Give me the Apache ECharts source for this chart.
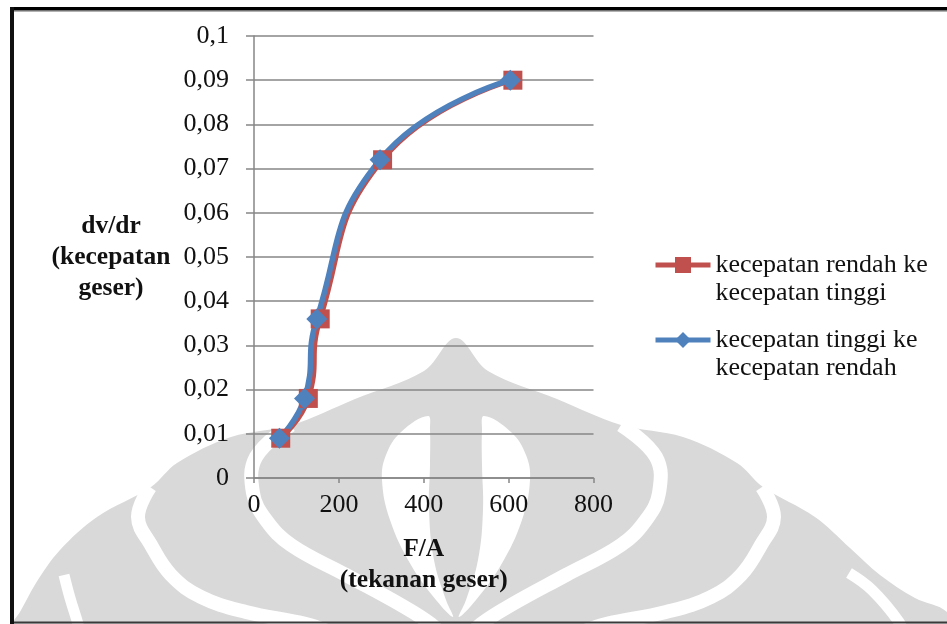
<!DOCTYPE html>
<html>
<head>
<meta charset="utf-8">
<script src="https://cdn.jsdelivr.net/npm/echarts@6/dist/echarts.min.js"></script>
<style>
html,body{margin:0;padding:0;background:#fff;}
#chart{width:947px;height:624px;}
</style>
</head>
<body>
<div id="chart"></div>
<script>
// ---- data ----
const seriesNames = ['kecepatan rendah ke kecepatan tinggi', 'kecepatan tinggi ke kecepatan rendah'];
const redX  = [63, 128, 156, 303, 610];
const redY  = [0.009, 0.018, 0.036, 0.072, 0.09];
const blueX = [60, 119, 148, 297, 604];
const blueY = [0.009, 0.018, 0.036, 0.072, 0.09];
const yAxisTitle = 'dv/dr\n(kecepatan\ngeser)';
const xAxisTitle = 'F/A\n(tekanan geser)';

const FONT = 'Liberation Serif';
const GRAY = '#d9d9d9';

function pairs(xs, ys){ return xs.map((x,i)=>[x, ys[i]]); }
function mirror(pts, cx){ return pts.map(p=>[2*cx - p[0], p[1]]); }

// ---- background watermark (decorative) ----
const CX = 456;
const envelope = [[10,640],[12,624],[20,612],[36,583],[60,550],[97,517],[151,487],[177,463],[231,437],[292,425],[355,399],[424,371],[456,338],[488,371],[557,399],[621,425],[683,437],[737,463],[763,487],[815,517],[850,548],[880,575],[915,598],[947,612],[960,640]];
const bandBLeft = [[291,425],[256,457],[253,493],[266,520],[291,545],[346,575],[401,605],[431,624],[440,634]];
const bandCLeft = [[150,487],[138,517],[151,545],[171,575],[201,597],[246,612],[306,624],[330,632]];
const bandDLeft = [[64,575],[70,598],[78,624],[80,634]];
const bandDRight = [[849,573],[872,590],[899,622],[903,634]];
const leafRight = [[484,416],[511,432],[526,455],[530,480],[522,520],[501,565],[476,600],[459,617],[466,600],[478,560],[483,510],[482,465],[482,430]];

const wm = [];
wm.push({type:'polygon', z:-10, silent:true, shape:{points:envelope, smooth:0.35}, style:{fill:GRAY}});
[bandBLeft, mirror(bandBLeft, CX), bandCLeft, mirror(bandCLeft, CX)].forEach(b=>{
  wm.push({type:'polyline', z:-9, silent:true, shape:{points:b, smooth:0.4}, style:{stroke:'#fff', lineWidth:14, fill:null}});
});
[bandDLeft, bandDRight].forEach(b=>{
  wm.push({type:'polyline', z:-9, silent:true, shape:{points:b, smooth:0.4}, style:{stroke:'#fff', lineWidth:11, fill:null}});
});
[leafRight, mirror(leafRight, CX)].forEach(l=>{
  wm.push({type:'polygon', z:-9, silent:true, shape:{points:l, smooth:0.4}, style:{fill:'#fff'}});
});
// frame
const frame = [
  {type:'rect', z:100, silent:true, shape:{x:10, y:7, width:937, height:3.5}, style:{fill:'#000'}},
  {type:'rect', z:100, silent:true, shape:{x:10, y:10.5, width:937, height:1}, style:{fill:'#666'}},
  {type:'rect', z:100, silent:true, shape:{x:10, y:7, width:4, height:617}, style:{fill:'#111'}},
  {type:'rect', z:100, silent:true, shape:{x:14, y:621.5, width:933, height:2}, style:{fill:'#3a3a3a'}}
];

const chart = echarts.init(document.getElementById('chart'));
const legendBase = {
  orient:'vertical', left:648, itemWidth:55, itemHeight:20, selectedMode:false,
  lineStyle:{width:5},
  textStyle:{fontFamily:FONT, fontSize:26, lineHeight:28, color:'#111'},
  // blank first line so the icon sits beside the first line of text
  formatter: n => ' \n' + n.replace(' ke ', ' ke\n')
};
chart.setOption({
  animation:false,
  backgroundColor:'#fff',
  grid:{left:254, right:353.5, top:36, bottom:146, containLabel:false},
  legend:[
    Object.assign({}, legendBase, {data:[seriesNames[0]], top:218}),
    Object.assign({}, legendBase, {data:[seriesNames[1]], top:293})
  ],
  xAxis:{
    type:'value', min:0, max:800, interval:200,
    name:xAxisTitle, nameLocation:'middle', nameGap:56,
    nameTextStyle:{fontFamily:FONT, fontSize:25.5, fontWeight:'bold', lineHeight:31, color:'#111'},
    axisLine:{show:true, lineStyle:{color:'#868686', width:1.5}},
    axisTick:{show:true, length:5, lineStyle:{color:'#868686', width:1.5}},
    axisLabel:{fontFamily:FONT, fontSize:26, color:'#111', margin:14},
    splitLine:{show:false}
  },
  yAxis:{
    type:'value', min:0, max:0.1, interval:0.01,
    name:yAxisTitle, nameLocation:'middle', nameGap:143, nameRotate:0,
    nameTextStyle:{fontFamily:FONT, fontSize:25.5, fontWeight:'bold', lineHeight:31, color:'#111', align:'center', verticalAlign:'middle', padding:[16,0,0,0]},
    axisLine:{show:true, lineStyle:{color:'#868686', width:1.5}},
    axisTick:{show:true, length:8, lineStyle:{color:'#868686', width:1.5}},
    axisLabel:{fontFamily:FONT, fontSize:26, color:'#111', margin:25,
      formatter: v => v === 0 ? '0' : String(+v.toFixed(2)).replace('.', ',')},
    splitLine:{show:true, lineStyle:{color:'#868686', width:1.5}}
  },
  series:[
    {type:'line', name:seriesNames[0], data:pairs(redX, redY), smooth:0.5,
     symbol:'rect', symbolSize:19,
     lineStyle:{color:'#C0504D', width:5}, itemStyle:{color:'#C0504D'}},
    {type:'line', name:seriesNames[1], data:pairs(blueX, blueY), smooth:0.5,
     symbol:'diamond', symbolSize:21,
     lineStyle:{color:'#4F81BD', width:5.5}, itemStyle:{color:'#4F81BD'}}
  ],
  graphic:{elements: wm.concat(frame)}
});
</script>
</body>
</html>
